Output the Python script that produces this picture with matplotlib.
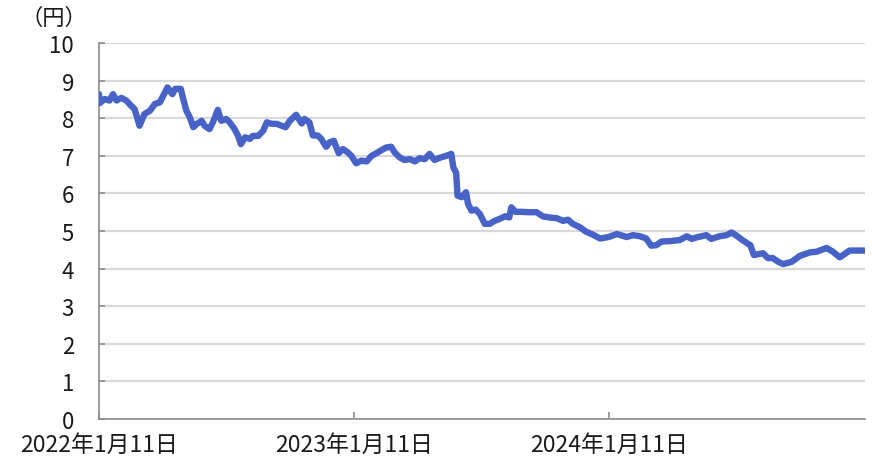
import matplotlib
matplotlib.use("Agg")
import matplotlib.pyplot as plt
import pandas as pd

plt.rcParams['font.family'] = ['Noto Sans CJK JP', 'DejaVu Sans']

dates = [
    "2022-01-11", "2022-01-12", "2022-01-19", "2022-01-26", "2022-01-31", "2022-02-05",
    "2022-02-12", "2022-02-19", "2022-02-26", "2022-03-03", "2022-03-10", "2022-03-17",
    "2022-03-25", "2022-04-01", "2022-04-08", "2022-04-13", "2022-04-19", "2022-04-26",
    "2022-04-30", "2022-05-08", "2022-05-11", "2022-05-16", "2022-05-21", "2022-05-26",
    "2022-05-31", "2022-06-07", "2022-06-11", "2022-06-18", "2022-06-23", "2022-06-30",
    "2022-07-05", "2022-07-12", "2022-07-17", "2022-07-24", "2022-07-29", "2022-08-02",
    "2022-08-08", "2022-08-15", "2022-08-19", "2022-08-27", "2022-09-03", "2022-09-08",
    "2022-09-15", "2022-09-22", "2022-09-29", "2022-10-05", "2022-10-11", "2022-10-20",
    "2022-10-28", "2022-11-01", "2022-11-08", "2022-11-13", "2022-11-20", "2022-11-25",
    "2022-12-02", "2022-12-07", "2022-12-13", "2022-12-20", "2022-12-26", "2023-01-02",
    "2023-01-07", "2023-01-14", "2023-01-21", "2023-01-29", "2023-02-05", "2023-02-12",
    "2023-02-19", "2023-02-26", "2023-03-05", "2023-03-10", "2023-03-17", "2023-03-24",
    "2023-04-01", "2023-04-08", "2023-04-15", "2023-04-22", "2023-04-29", "2023-05-06",
    "2023-05-14", "2023-05-23", "2023-05-30", "2023-06-02", "2023-06-06", "2023-06-08",
    "2023-06-14", "2023-06-20", "2023-06-23", "2023-06-28", "2023-07-04", "2023-07-10",
    "2023-07-17", "2023-07-24", "2023-07-31", "2023-08-07", "2023-08-15", "2023-08-21",
    "2023-08-24", "2023-08-30", "2023-09-07", "2023-09-17", "2023-09-29", "2023-10-08",
    "2023-10-18", "2023-10-28", "2023-11-06", "2023-11-13", "2023-11-20", "2023-11-30",
    "2023-12-09", "2023-12-19", "2023-12-29", "2024-01-10", "2024-01-22", "2024-01-29",
    "2024-02-05", "2024-02-14", "2024-02-24", "2024-03-04", "2024-03-11", "2024-03-18",
    "2024-03-26", "2024-04-07", "2024-04-21", "2024-05-01", "2024-05-08", "2024-05-15",
    "2024-05-29", "2024-06-05", "2024-06-17", "2024-06-27", "2024-07-04", "2024-07-11",
    "2024-07-21", "2024-07-31", "2024-08-05", "2024-08-18", "2024-08-25", "2024-09-01",
    "2024-09-09", "2024-09-16", "2024-09-28", "2024-10-10", "2024-10-24", "2024-11-03",
    "2024-11-17", "2024-11-26", "2024-12-06", "2024-12-13", "2024-12-20", "2024-12-30",
    "2025-01-10",
]
values = [
    8.64, 8.40, 8.51, 8.47, 8.64, 8.47,
    8.54, 8.47, 8.33, 8.24, 7.80, 8.11,
    8.20, 8.38, 8.42, 8.60, 8.82, 8.64,
    8.78, 8.78, 8.55, 8.20, 8.02, 7.76,
    7.85, 7.93, 7.80, 7.71, 7.89, 8.22,
    7.93, 7.98, 7.89, 7.71, 7.53, 7.31,
    7.49, 7.45, 7.53, 7.53, 7.67, 7.89,
    7.85, 7.85, 7.80, 7.76, 7.93, 8.09,
    7.86, 7.98, 7.89, 7.54, 7.54, 7.45,
    7.24, 7.36, 7.40, 7.07, 7.18, 7.09,
    7.00, 6.80, 6.87, 6.85, 7.00, 7.07,
    7.15, 7.22, 7.24, 7.09, 6.96, 6.89,
    6.91, 6.85, 6.94, 6.91, 7.05, 6.89,
    6.95, 7.00, 7.05, 6.69, 6.55, 5.94,
    5.90, 6.03, 5.72, 5.54, 5.57, 5.45,
    5.19, 5.19, 5.27, 5.32, 5.39, 5.36,
    5.63, 5.51, 5.51, 5.50, 5.50, 5.39,
    5.36, 5.34, 5.27, 5.30, 5.19, 5.10,
    4.98, 4.90, 4.80, 4.84, 4.92, 4.88,
    4.84, 4.89, 4.86, 4.80, 4.61, 4.62,
    4.72, 4.73, 4.76, 4.86, 4.79, 4.83,
    4.89, 4.79, 4.86, 4.89, 4.96, 4.88,
    4.74, 4.62, 4.36, 4.41, 4.28, 4.28,
    4.18, 4.12, 4.18, 4.34, 4.43, 4.45,
    4.55, 4.45, 4.30, 4.39, 4.48, 4.48,
    4.48,
]
x_tick_dates = ["2022-01-11", "2023-01-11", "2024-01-11"]
x_tick_labels = ["2022年1月11日", "2023年1月11日", "2024年1月11日"]
y_ticks = list(range(0, 11))
unit_label = "（円）"

d = pd.to_datetime(dates)

fig = plt.figure(figsize=(8.74, 4.64), dpi=100)
ax = fig.add_axes([99/874, 44/464, (865-99)/874, (420-44)/464])

ax.plot(d, values, color="#4763C7", lw=4.6, solid_joinstyle="round",
        solid_capstyle="round", zorder=3)

ax.set_ylim(0, 10)
ax.set_yticks(y_ticks)
ax.set_yticklabels([str(v) for v in y_ticks])
ax.set_xlim(pd.Timestamp("2022-01-11"), pd.Timestamp("2025-01-11"))
ax.set_xticks(pd.to_datetime(x_tick_dates))
ax.set_xticklabels(x_tick_labels)

ax.grid(axis="y", color="#d9d9d9", lw=1.6, zorder=0)
ax.set_axisbelow(True)
for s in ["top", "right"]:
    ax.spines[s].set_visible(False)
for s in ["left", "bottom"]:
    ax.spines[s].set_color("#8c8c8c")
    ax.spines[s].set_linewidth(1.2)

ax.tick_params(axis="y", direction="in", length=4, width=1.2, color="#8c8c8c",
               pad=18, labelsize=16, labelcolor="#1a1a1a")
ax.tick_params(axis="x", direction="in", length=5, width=1.2, color="#8c8c8c",
               pad=10, labelsize=16.5, labelcolor="#1a1a1a")

fig.text(20/874, 1 - 18/464, unit_label, fontsize=16, color="#1a1a1a",
         ha="left", va="center")

fig.savefig("out.png", dpi=100)
